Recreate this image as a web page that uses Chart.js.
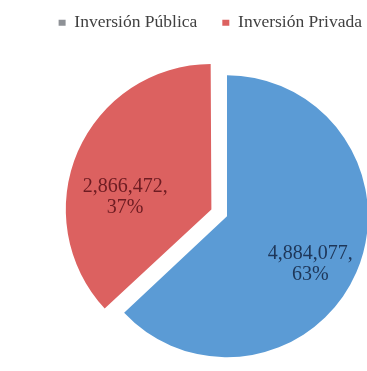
<!DOCTYPE html>
<html lang="es">
<head>
    <meta charset="UTF-8">
    <title>Inversión Pública y Privada</title>
    <script src="https://cdn.jsdelivr.net/npm/chart.js@4"></script>
    <style>
        html, body {
            margin: 0;
            padding: 0;
            background: #fff;
            overflow: hidden;
        }
        .chart-container {
            position: relative;
            width: 367px;
            height: 371px;
        }
    </style>
</head>
<body>
    <div class="chart-container">
        <canvas id="investChart"></canvas>
    </div>
    <script>
        // Datos del gráfico
        const categories = ["Inversión Pública", "Inversión Privada"];
        const values = [4884077, 2866472];
        const percentLabels = ["63%", "37%"];

        const sliceColors = ["#5B9BD5", "#DC6160"];
        const markerColors = ["#8E9196", "#DC6160"];
        const textColors = ["#1E3658", "#6E1C22"];

        // Desplaza el área del gráfico (la leyenda no está centrada sobre el pastel)
        const pieShift = {
            id: "pieShift",
            afterLayout(chart, args, opts) {
                const a = chart.chartArea;
                a.left += opts.x;
                a.right += opts.x;
                a.top += opts.y;
                a.bottom += opts.y;
            }
        };

        // Etiquetas de datos dentro de cada sector
        const sliceLabels = {
            id: "sliceLabels",
            afterDatasetsDraw(chart, args, opts) {
                const ctx = chart.ctx;
                const meta = chart.getDatasetMeta(0);
                ctx.save();
                ctx.font = opts.size + "px 'Liberation Serif', 'Times New Roman', serif";
                ctx.textAlign = "center";
                ctx.textBaseline = "middle";
                meta.data.forEach((arc, i) => {
                    const p = arc.getProps(["x", "y", "startAngle", "endAngle", "outerRadius"], true);
                    const mid = (p.startAngle + p.endAngle) / 2;
                    const shift = (arc.options.offset || 0) / 4 + p.outerRadius * opts.fraction;
                    const cx = p.x + Math.cos(mid) * shift + opts.nudge[i][0];
                    const cy = p.y + Math.sin(mid) * shift + opts.nudge[i][1];
                    ctx.fillStyle = textColors[i];
                    ctx.fillText(values[i].toLocaleString("en-US") + ",", cx, cy - opts.lineGap / 2);
                    ctx.fillText(percentLabels[i], cx, cy + opts.lineGap / 2);
                });
                ctx.restore();
            }
        };

        const baseLabels = Chart.overrides.doughnut.plugins.legend.labels.generateLabels;

        new Chart(document.getElementById("investChart"), {
            type: "pie",
            data: {
                labels: categories,
                datasets: [{
                    data: values,
                    backgroundColor: sliceColors,
                    borderWidth: 0,
                    offset: [0, 68],
                    hoverOffset: 0,
                    radius: 141
                }]
            },
            options: {
                responsive: true,
                maintainAspectRatio: false,
                animation: false,
                layout: {
                    padding: { top: -11, bottom: 0, left: 20, right: -20 }
                },
                plugins: {
                    legend: {
                        position: "top",
                        align: "end",
                        labels: {
                            font: { family: "'Liberation Serif', 'Times New Roman', serif", size: 17.5 },
                            color: "#404040",
                            boxWidth: 7,
                            boxHeight: 6,
                            padding: 25,
                            generateLabels(chart) {
                                const items = baseLabels(chart);
                                items.forEach((it, i) => {
                                    it.fillStyle = markerColors[i];
                                    it.strokeStyle = markerColors[i];
                                    it.lineWidth = 0;
                                });
                                return items;
                            }
                        }
                    },
                    tooltip: { enabled: false },
                    pieShift: { x: 33.5, y: 10 },
                    sliceLabels: {
                        size: 20,
                        lineGap: 21,
                        fraction: 0.62,
                        nudge: [[3, 13], [-6, 23]]
                    }
                }
            },
            plugins: [pieShift, sliceLabels]
        });
    </script>
</body>
</html>
